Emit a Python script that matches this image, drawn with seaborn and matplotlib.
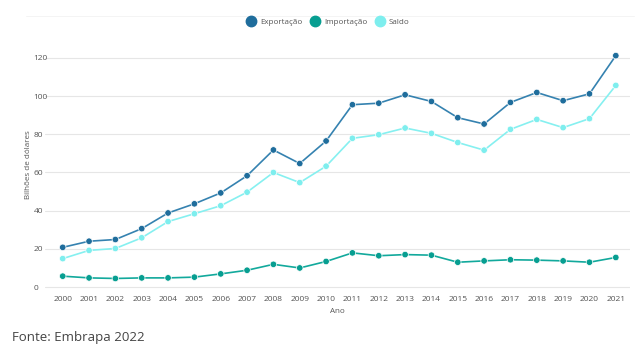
import matplotlib
matplotlib.use("Agg")
from matplotlib import pyplot as plt
import seaborn as sns
import pandas as pd

# dados (bilhões de dólares)
anos = [str(a) for a in range(2000, 2022)]
exportacao = [20.8, 24.0, 24.9, 30.6, 38.8, 43.6, 49.3, 58.3, 71.8, 64.7, 76.5,
              95.5, 96.3, 100.7, 97.2, 88.7, 85.4, 96.7, 101.9, 97.6, 101.2, 121.2]
importacao = [5.7, 4.8, 4.5, 4.8, 4.8, 5.2, 6.9, 8.8, 11.9, 10.0, 13.4,
              17.9, 16.4, 17.0, 16.7, 13.0, 13.7, 14.3, 14.1, 13.7, 13.0, 15.5]
saldo = [14.9, 19.2, 20.2, 25.8, 34.3, 38.4, 42.6, 49.7, 60.0, 54.7, 63.3,
         77.9, 79.8, 83.3, 80.5, 75.7, 71.7, 82.6, 87.8, 83.5, 88.2, 105.6]
series = ['Exportação', 'Importação', 'Saldo']

df = pd.DataFrame({'Ano': anos, 'Exportação': exportacao,
                   'Importação': importacao, 'Saldo': saldo})
df_long = df.melt(id_vars='Ano', var_name='serie', value_name='valor')

sns.set_style('white')
plt.rcParams['font.family'] = ['Open Sans', 'DejaVu Sans']

cores = {'Exportação': '#3582b0', 'Importação': '#12a99c', 'Saldo': '#86f0f0'}
cores_marc = {'Exportação': '#1f6d9c', 'Importação': '#079e91', 'Saldo': '#7eeeee'}

fig = plt.figure(figsize=(6.4, 3.53), dpi=100)
ax = fig.add_axes([0.07, 0.176, 0.914, 0.714])

sns.lineplot(data=df_long, x='Ano', y='valor', hue='serie', palette=cores,
             linewidth=1.2, sort=False, legend=False, ax=ax)
sns.scatterplot(data=df_long, x='Ano', y='valor', hue='serie', palette=cores_marc,
                s=22, edgecolor='white', linewidth=0.5, legend=False, zorder=3, ax=ax)

ax.set_xlim(-0.68, 21.53)
ax.set_ylim(-2, 130)
ax.set_yticks([0, 20, 40, 60, 80, 100, 120])
ax.yaxis.grid(True, color='#e6e6e6', linewidth=0.8)
ax.xaxis.grid(False)
for s in ax.spines.values():
    s.set_visible(False)
ax.tick_params(axis='both', length=0, labelsize=6, colors='#555555')
ax.tick_params(axis='x', pad=4)
ax.tick_params(axis='y', pad=8)
for lbl in ax.get_yticklabels():
    lbl.set_horizontalalignment('left')
ax.set_xlabel('Ano', fontsize=5.8, color='#555555', labelpad=3)
ax.set_ylabel('Bilhões de dólares', fontsize=5.8, color='#555555', labelpad=1)

# legenda no topo
handles = [plt.Line2D([], [], marker='o', linestyle='', markersize=7.5,
                      color=cores_marc[s]) for s in series]
fig.legend(handles, series, loc='center', bbox_to_anchor=(0.51, 0.937),
           ncol=3, frameon=False, fontsize=5.8, handletextpad=0.1,
           columnspacing=0.6, labelcolor='#555555')

fig.add_artist(plt.Line2D([0.04, 0.99], [0.955, 0.955], color='#f2f2f2',
                          linewidth=0.6, transform=fig.transFigure))

fig.text(0.018, 0.035, 'Fonte: Embrapa 2022', fontsize=9.5, color='#444444')

fig.savefig('out.png', dpi=100)
